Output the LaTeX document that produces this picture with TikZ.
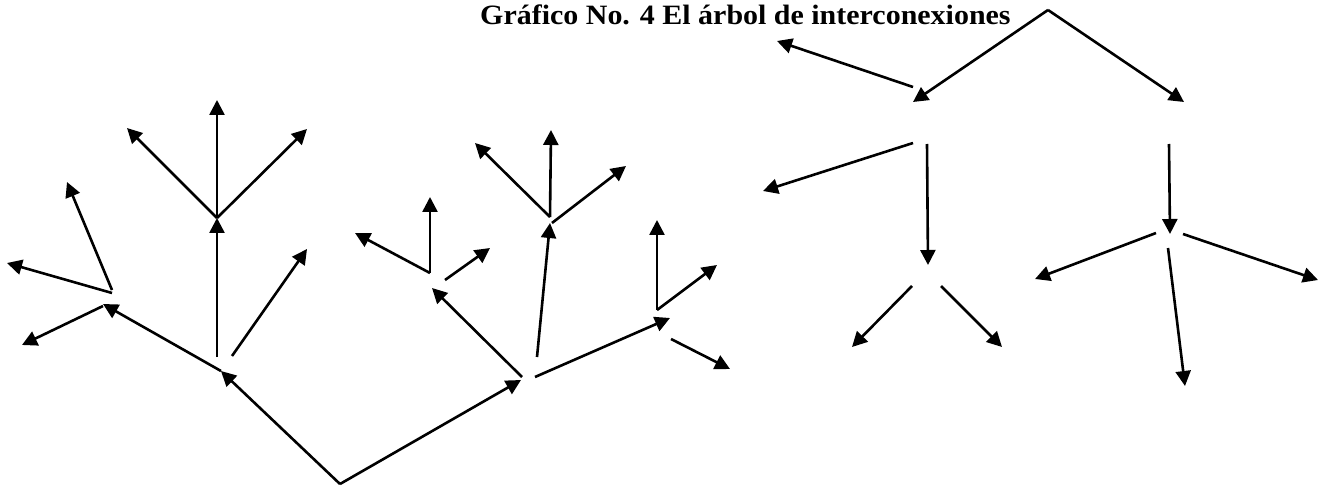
\documentclass[tikz,border=0pt]{standalone}
\usepackage{fontspec}
\usepackage{graphicx}
\setmainfont{Liberation Serif}
\usetikzlibrary{arrows.meta}
\begin{document}
\begin{tikzpicture}[x=1pt,y=-1pt,
  arr/.style={line width=2.6pt,-{Triangle[length=15pt,width=15pt]}},
  ttl/.style={anchor=base west,inner sep=0pt,font=\bfseries\fontsize{28}{32}\selectfont}]
\useasboundingbox (0,0) rectangle (1320,489);
\node[ttl] (title) at (480,25) {\scalebox{1.07}[1]{Gráfico No. 4 El árbol de interconexiones}};
% left tree
\coordinate (R) at (340,484);
\coordinate (n1) at (221,371);
\coordinate (n2) at (521,380);
\coordinate (n3) at (103,304);
\coordinate (n1v) at (217,357);
\coordinate (n4) at (217,218);
\coordinate (n1d) at (232,356);
\coordinate (t1d) at (307,249);
\coordinate (n3a) at (103,306);
\coordinate (t3a) at (22,345);
\coordinate (n3b) at (112,293);
\coordinate (t3b) at (7,263);
\coordinate (n3c) at (112,290);
\coordinate (t3c) at (67,182);
\coordinate (t4a) at (217,100);
\coordinate (t4b) at (127,128);
\coordinate (t4c) at (307,129);
\coordinate (n2a) at (522,377);
\coordinate (n5) at (432,288);
\coordinate (n2b) at (537,357);
\coordinate (n6) at (550,223);
\coordinate (n2c) at (535,377);
\coordinate (n7) at (670,318);
\coordinate (n5a) at (430,273);
\coordinate (t5a) at (355,233);
\coordinate (t5b) at (430,197);
\coordinate (n5b) at (445,280);
\coordinate (t5c) at (490,248);
\coordinate (n6a) at (550,217);
\coordinate (t6a) at (551,130);
\coordinate (t6b) at (475,143);
\coordinate (n6b) at (552,223);
\coordinate (t6c) at (626,166);
\coordinate (n7a) at (657,310);
\coordinate (t7a) at (657,220);
\coordinate (t7b) at (717,265);
\coordinate (n7b) at (671,339);
\coordinate (t7c) at (730,369);
\draw[arr] (R) -- (n1);
\draw[arr] (R) -- (n2);
\draw[arr] (n1) -- (n3);
\draw[arr] (n1v) -- (n4);
\draw[arr] (n1d) -- (t1d);
\draw[arr] (n3a) -- (t3a);
\draw[arr] (n3b) -- (t3b);
\draw[arr] (n3c) -- (t3c);
\draw[arr] (n4) -- (t4a);
\draw[arr] (n4) -- (t4b);
\draw[arr] (n4) -- (t4c);
\draw[arr] (n2a) -- (n5);
\draw[arr] (n2b) -- (n6);
\draw[arr] (n2c) -- (n7);
\draw[arr] (n5a) -- (t5a);
\draw[arr] (n5a) -- (t5b);
\draw[arr] (n5b) -- (t5c);
\draw[arr] (n6a) -- (t6a);
\draw[arr] (n6a) -- (t6b);
\draw[arr] (n6b) -- (t6c);
\draw[arr] (n7a) -- (t7a);
\draw[arr] (n7a) -- (t7b);
\draw[arr] (n7b) -- (t7c);
% right tree
\coordinate (A) at (1048,10);
\coordinate (L) at (913,102);
\coordinate (Rt) at (1184,102);
\coordinate (La) at (913,87);
\coordinate (tLa) at (777,41);
\coordinate (Lb) at (913,143);
\coordinate (tLb) at (763,191);
\coordinate (Lc) at (927,144);
\coordinate (LL) at (928,265);
\coordinate (LLa) at (912,286);
\coordinate (tLLa) at (852,347);
\coordinate (LLb) at (941,286);
\coordinate (tLLb) at (1002,347);
\coordinate (Ra) at (1169,144);
\coordinate (RR) at (1170,234);
\coordinate (RRa) at (1156,233);
\coordinate (tRRa) at (1035,279);
\coordinate (RRb) at (1183,234);
\coordinate (tRRb) at (1318,280);
\coordinate (RRc) at (1168,248);
\coordinate (tRRc) at (1185,386);
\draw[arr] (A) -- (L);
\draw[arr] (A) -- (Rt);
\draw[arr] (La) -- (tLa);
\draw[arr] (Lb) -- (tLb);
\draw[arr] (Lc) -- (LL);
\draw[arr] (LLa) -- (tLLa);
\draw[arr] (LLb) -- (tLLb);
\draw[arr] (Ra) -- (RR);
\draw[arr] (RRa) -- (tRRa);
\draw[arr] (RRb) -- (tRRb);
\draw[arr] (RRc) -- (tRRc);
\end{tikzpicture}
\end{document}
